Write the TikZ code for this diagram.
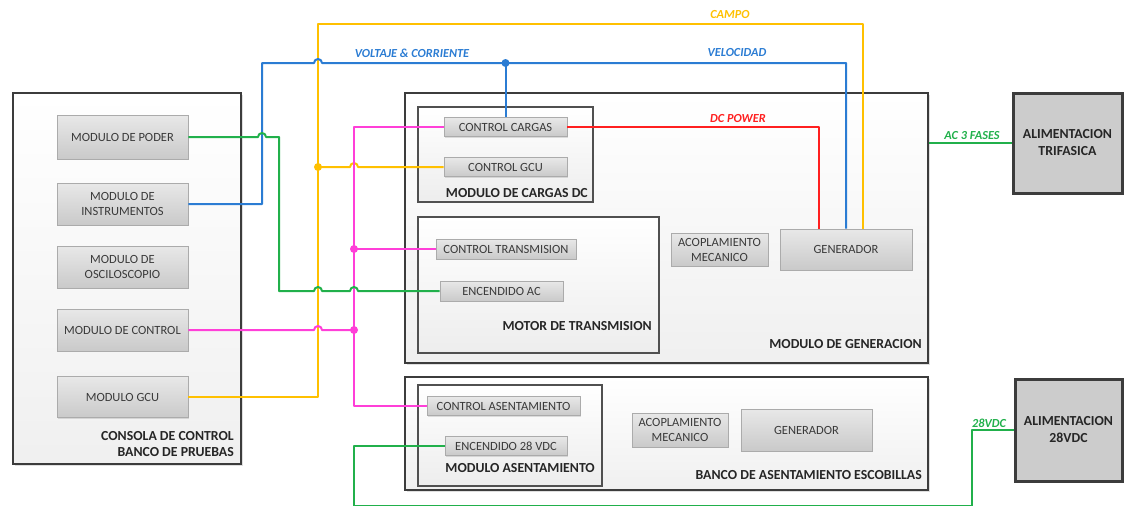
\documentclass[tikz,border=0pt]{standalone}
\usepackage{fontspec}
\setmainfont{Carlito}
\usetikzlibrary{shadows}
\definecolor{cY}{HTML}{FFC000}
\definecolor{cB}{HTML}{2B7CD3}
\definecolor{cG}{HTML}{21B04B}
\definecolor{cR}{HTML}{FF1F1F}
\definecolor{cP}{HTML}{FF3FD8}
\definecolor{txt}{HTML}{3A3A3A}
\definecolor{frame}{HTML}{3C3C3C}
\tikzset{
  modbox/.style={draw=black!33, line width=0.8pt, top color=black!9, bottom color=black!21,
    text=txt, font=\fontsize{12.5}{15}\selectfont, align=center, inner sep=0pt,
    drop shadow={shadow xshift=1.2pt, shadow yshift=-1.2pt, opacity=0.25}},
  bigbox/.style={draw=frame, line width=2.6pt, top color=white, bottom color=black!6,
    inner sep=0pt, drop shadow={shadow xshift=1.5pt, shadow yshift=-1.5pt, opacity=0.25}},
  grpbox/.style={draw=frame!90, line width=1.8pt, top color=white, bottom color=black!7,
    inner sep=0pt, drop shadow={shadow xshift=1.2pt, shadow yshift=-1.2pt, opacity=0.25}},
  pwrbox/.style={draw=frame, line width=3pt, fill=black!20, inner sep=0pt, align=center,
    font=\fontsize{13.8}{17}\selectfont\bfseries, text=black!85,
    drop shadow={shadow xshift=1.5pt, shadow yshift=-1.5pt, opacity=0.25}},
  grplabel/.style={font=\fontsize{13.8}{16}\selectfont\bfseries, text=black!85, inner sep=0pt, align=right},
  linelabel/.style={font=\fontsize{12.3}{13}\selectfont\bfseries\itshape, inner sep=0pt},
  wire/.style={line width=2pt, line join=round},
  wY/.style={wire, draw=cY}, wB/.style={wire, draw=cB}, wG/.style={wire, draw=cG},
  wR/.style={wire, draw=cR}, wP/.style={wire, draw=cP},
  jdot/.style={circle, inner sep=0pt, minimum size=8pt},
}
\newcommand{\hop}{arc[start angle=180, end angle=0, radius=4pt]}
\begin{document}
\begin{tikzpicture}[x=1pt,y=-1pt]
\useasboundingbox (0,0) rectangle (1125,506);

% containers
\node[bigbox, minimum width=228pt, minimum height=371pt] (console) at (127,278.5) {};
\node[bigbox, minimum width=523pt, minimum height=270pt] (genmod) at (666.5,228) {};
\node[bigbox, minimum width=523pt, minimum height=113pt] (banco) at (666.5,433.5) {};
\node[grpbox, minimum width=175pt, minimum height=95pt] (cargas) at (505.5,154.5) {};
\node[grpbox, minimum width=241pt, minimum height=136pt] (motor) at (538.5,285) {};
\node[grpbox, minimum width=184pt, minimum height=101pt] (asent) at (510,435.5) {};

% console modules
\node[modbox, minimum width=131pt, minimum height=44pt] (poder) at (122.5,137) {MODULO DE PODER};
\node[modbox, minimum width=131pt, minimum height=42pt] (instr) at (122.5,204) {MODULO DE\\INSTRUMENTOS};
\node[modbox, minimum width=131pt, minimum height=42pt] (osc) at (122.5,267) {MODULO DE\\OSCILOSCOPIO};
\node[modbox, minimum width=131pt, minimum height=42pt] (ctrl) at (122.5,330) {MODULO DE CONTROL};
\node[modbox, minimum width=131pt, minimum height=41pt] (gcu) at (122.5,397) {MODULO GCU};

% generation modules
\node[modbox, minimum width=123pt, minimum height=19pt] (ctrlcargas) at (505.5,127) {CONTROL CARGAS};
\node[modbox, minimum width=123pt, minimum height=19pt] (ctrlgcu) at (505.5,167) {CONTROL GCU};
\node[modbox, minimum width=140pt, minimum height=20pt] (ctrltrans) at (506,249) {CONTROL TRANSMISION};
\node[modbox, minimum width=123pt, minimum height=20pt] (encac) at (501.5,291) {ENCENDIDO AC};
\node[modbox, minimum width=97pt, minimum height=33pt] (acop1) at (719.5,249.5) {ACOPLAMIENTO\\MECANICO};
\node[modbox, minimum width=132pt, minimum height=41pt] (gen1) at (846,249.5) {GENERADOR};

% banco modules
\node[modbox, minimum width=153pt, minimum height=19pt] (ctrlasent) at (503.5,406) {CONTROL ASENTAMIENTO};
\node[modbox, minimum width=122pt, minimum height=19pt] (enc28) at (506,446) {ENCENDIDO 28 VDC};
\node[modbox, minimum width=96pt, minimum height=34pt] (acop2) at (680,430) {ACOPLAMIENTO\\MECANICO};
\node[modbox, minimum width=131pt, minimum height=42pt] (gen2) at (806.5,430) {GENERADOR};

% power supplies
\node[pwrbox, minimum width=109pt, minimum height=100pt] (alimT) at (1067.5,143) {ALIMENTACION\\TRIFASICA};
\node[pwrbox, minimum width=107pt, minimum height=102pt] (alim28) at (1068.5,430) {ALIMENTACION\\28VDC};

% group labels
\node[grplabel, anchor=east] (lconsole) at (234,444) {CONSOLA DE CONTROL\\BANCO DE PRUEBAS};
\node[grplabel, anchor=east] (lcargas) at (588,193) {MODULO DE CARGAS DC};
\node[grplabel, anchor=east] (lmotor) at (652,326) {MOTOR DE TRANSMISION};
\node[grplabel, anchor=east] (lgen) at (922,344) {MODULO DE GENERACION};
\node[grplabel, anchor=east] (lasent) at (595,468) {MODULO ASENTAMIENTO};
\node[grplabel, anchor=east] (lbanco) at (922,475) {BANCO DE ASENTAMIENTO ESCOBILLAS};

% route coordinates
\coordinate (cTop) at (318,24);
\coordinate (cTopR) at (863,24);
\coordinate (yJ) at (318,167);
\coordinate (bL) at (262,63);
\coordinate (bJ) at (505.5,63);
\coordinate (bR) at (846,63);
\coordinate (rR) at (819,127);
\coordinate (pTop) at (354,127);
\coordinate (pJ1) at (354,249);
\coordinate (pJ2) at (354,330);
\coordinate (pBot) at (354,406);
\coordinate (g28a) at (972,430);
\coordinate (g28b) at (972,505.5);
\coordinate (g28c) at (354,505.5);

% yellow: CAMPO
\draw[wY] (gcu.east) -- (318,397) -- (cTop) -- (cTopR) -- (gen1.north -| cTopR);
\draw[wY] (yJ) -- (350,167) \hop -- (ctrlgcu.west);
% blue
\draw[wB] (instr.east) -- (262,204) -- (bL) -- (314,63) \hop -- (bR) -- (gen1.north -| bR);
\draw[wB] (bJ) -- (ctrlcargas.north);
% red
\draw[wR] (ctrlcargas.east) -- (rR) -- (gen1.north -| rR);
% pink
\draw[wP] (ctrlcargas.west) -- (pTop) -- (pBot) -- (ctrlasent.west);
\draw[wP] (pJ1) -- (ctrltrans.west);
\draw[wP] (ctrl.east) -- (314,330) \hop -- (pJ2);
% green
\draw[wG] (poder.east) -- (258,137) \hop -- (279,137) -- (279,291) -- (314,291) \hop -- (350,291) \hop -- (encac.west);
\draw[wG] (genmod.east |- alimT.west) -- (alimT.west);
\draw[wG] (alim28.west) -- (g28a) -- (g28b) -- (g28c) -- (enc28.west -| g28c) -- (enc28.west);

% junction dots
\node[jdot, fill=cY] (dY) at (yJ) {};
\node[jdot, fill=cB] (dB) at (bJ) {};
\node[jdot, fill=cP] (dP1) at (pJ1) {};
\node[jdot, fill=cP] (dP2) at (pJ2) {};

% wire labels
\node[linelabel, text=cY] (lcampo) at (730,15) {CAMPO};
\node[linelabel, text=cB] (lvolt) at (412,53) {VOLTAJE \& CORRIENTE};
\node[linelabel, text=cB] (lvel) at (737,53) {VELOCIDAD};
\node[linelabel, text=cR] (ldc) at (738,119) {DC POWER};
\node[linelabel, text=cG] (lac) at (972,136) {AC 3 FASES};
\node[linelabel, text=cG] (l28) at (989,423) {28VDC};
\end{tikzpicture}
\end{document}
